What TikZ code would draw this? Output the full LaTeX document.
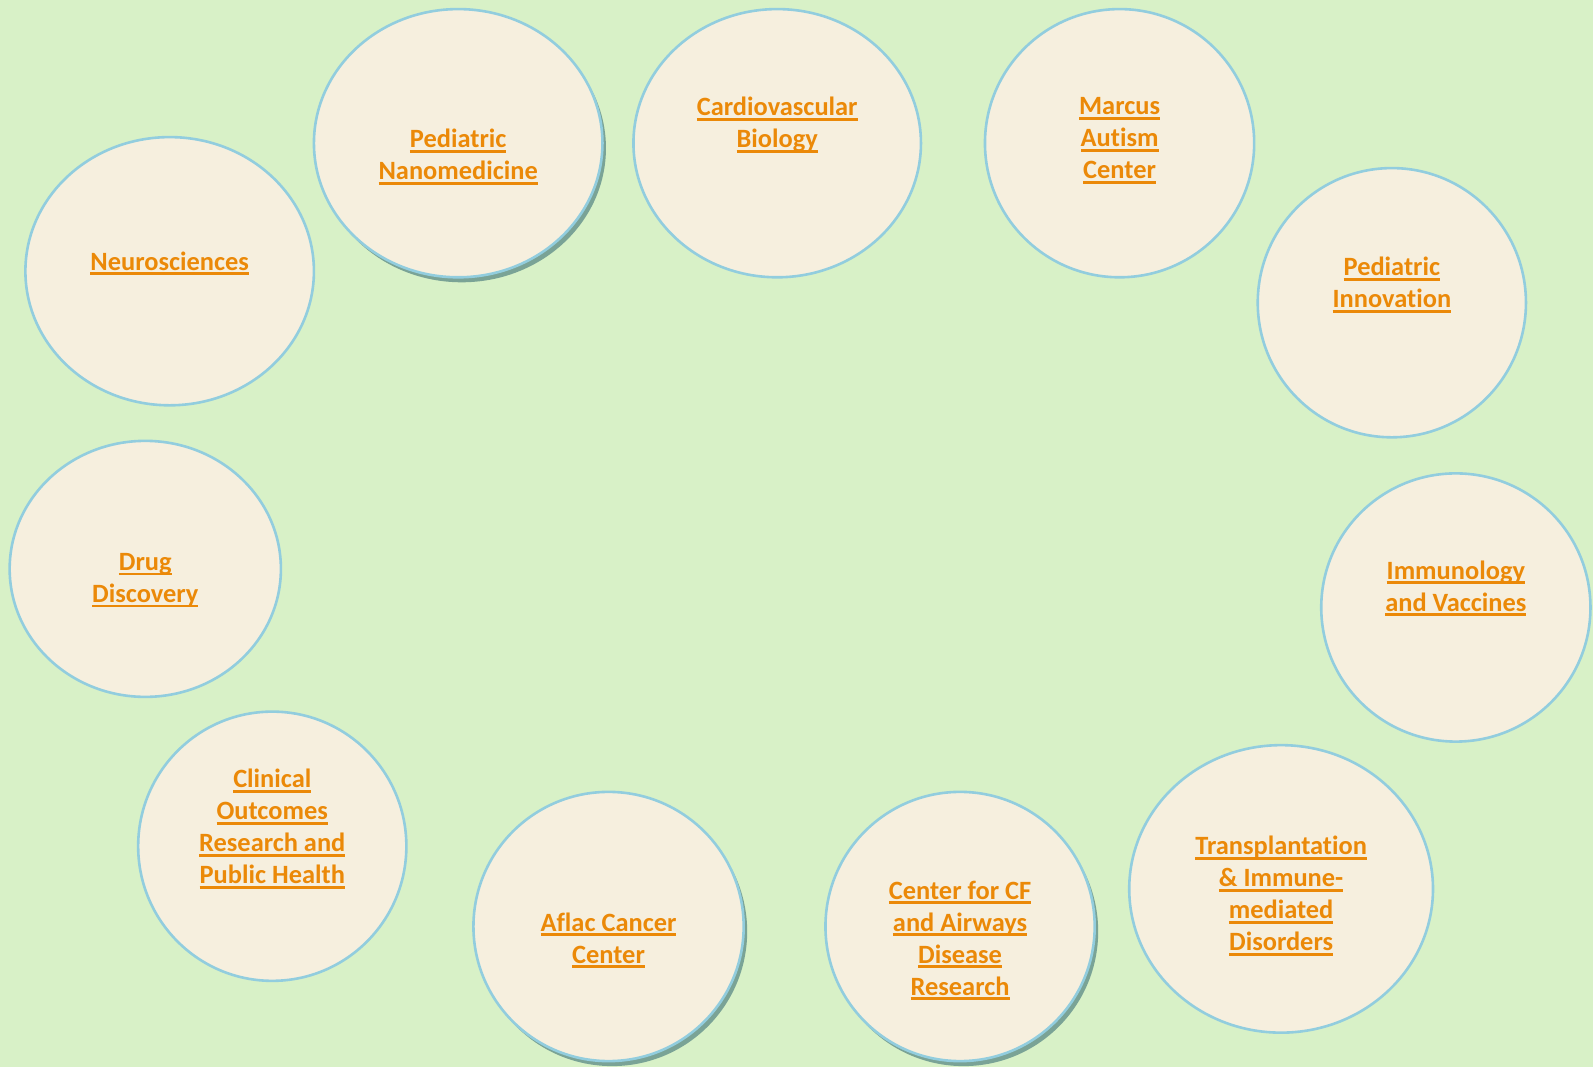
\documentclass[tikz,border=0pt]{standalone}
\usepackage{fontspec}
\setmainfont{Carlito}[Ligatures=NoCommon]
\usetikzlibrary{shapes.geometric,shadows}
\definecolor{bgc}{RGB}{216,241,199}
\definecolor{fillc}{RGB}{246,239,222}
\definecolor{linec}{RGB}{146,205,222}
\definecolor{txtc}{RGB}{235,137,8}
\definecolor{shc}{RGB}{112,155,145}
\newcommand\ulin[1]{\mbox{\setbox0\hbox{#1}\rlap{\rule[-4.6pt]{\wd0}{2.9pt}}\box0}}
\tikzset{
  bubble/.style={ellipse, draw=linec, fill=fillc, line width=2.6pt, inner sep=0pt},
  shadowed/.style={drop shadow={shadow xshift=3.5pt, shadow yshift=-5pt, fill=shc, opacity=0.9}},
  lbl/.style={text=txtc, align=center, inner sep=0pt, font=\fontsize{26}{31.5}\selectfont\bfseries}
}
\begin{document}
\begin{tikzpicture}[x=1pt,y=1pt,scale=1.01594,every node/.append style={transform shape}]
\fill[bgc] (0,0) rectangle (1568,1050.26);
\useasboundingbox (0,0) rectangle (1568,1050.26);
% ellipses
\node[bubble, minimum width=284, minimum height=264] (neuro) at (167,783.3) {};
\node[bubble, shadowed, minimum width=284, minimum height=264] (nano) at (451,909.3) {};
\node[bubble, minimum width=283, minimum height=264] (cardio) at (765,909.3) {};
\node[bubble, minimum width=265, minimum height=264] (marcus) at (1102,909.3) {};
\node[bubble, minimum width=264, minimum height=265] (innov) at (1370,752.3) {};
\node[bubble, minimum width=265, minimum height=264] (immun) at (1433,452.3) {};
\node[bubble, minimum width=299, minimum height=283] (transp) at (1261,175.3) {};
\node[bubble, shadowed, minimum width=265, minimum height=265] (cf) at (945,138.3) {};
\node[bubble, shadowed, minimum width=266, minimum height=265] (aflac) at (599,138.3) {};
\node[bubble, minimum width=264, minimum height=265] (clin) at (268,217.3) {};
\node[bubble, minimum width=267, minimum height=252] (drug) at (143,490.3) {};
% labels
\node[lbl] (tneuro) at (167,791.3) {\ulin{Neurosciences}};
\node[lbl] (tnano) at (451,895.8) {\ulin{Pediatric}\\\ulin{Nanomedicine}};
\node[lbl] (tcardio) at (765,927.3) {\ulin{Cardiovascular}\\\ulin{Biology}};
\node[lbl] (tmarcus) at (1102,911.8) {\ulin{Marcus}\\\ulin{Autism}\\\ulin{Center}};
\node[lbl] (tinnov) at (1370,769.8) {\ulin{Pediatric}\\\ulin{Innovation}};
\node[lbl] (timmun) at (1433,470.8) {\ulin{Immunology}\\\ulin{and Vaccines}};
\node[lbl] (ttransp) at (1261,168.3) {\ulin{Transplantation}\\\ulin{\& Immune-}\\\ulin{mediated}\\\ulin{Disorders}};
\node[lbl] (tcf) at (945,124.3) {\ulin{Center for CF}\\\ulin{and Airways}\\\ulin{Disease}\\\ulin{Research}};
\node[lbl] (taflac) at (599,124.3) {\ulin{Aflac Cancer}\\\ulin{Center}};
\node[lbl] (tclin) at (268,234.3) {\ulin{Clinical}\\\ulin{Outcomes}\\\ulin{Research and}\\\ulin{Public Health}};
\node[lbl] (tdrug) at (143,478.8) {\ulin{Drug}\\\ulin{Discovery}};
\end{tikzpicture}
\end{document}
